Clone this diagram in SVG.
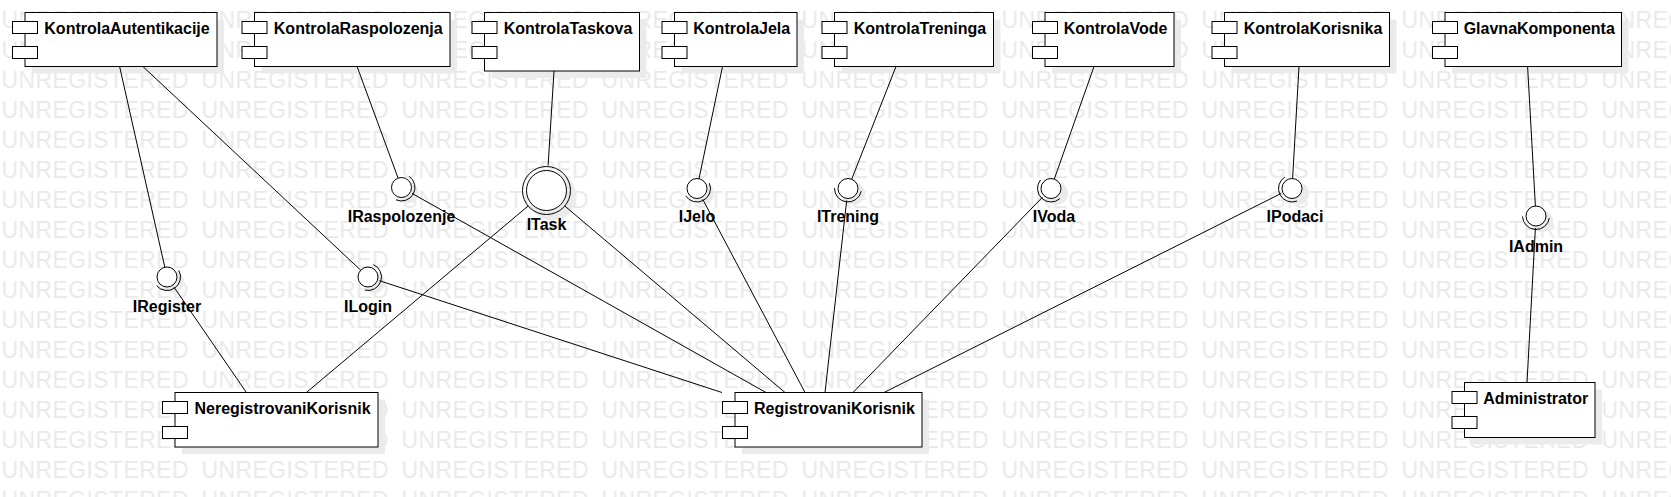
<svg xmlns="http://www.w3.org/2000/svg" width="1671" height="497" viewBox="0 0 1671 497">
<style>
.wm{font-family:"Liberation Sans",Arial,sans-serif;font-size:23px;fill:#e8e8e8;letter-spacing:0.4px}
.box{fill:#fff;stroke:#000;stroke-width:1}
.sm{fill:#fff;stroke:#000;stroke-width:1}
.sh{fill:#ebebeb}
.lbl{font-family:"Liberation Sans",Arial,sans-serif;font-size:16px;font-weight:bold;fill:#000}
.ball{fill:#fff;stroke:#000;stroke-width:1}
.arc{fill:none;stroke:#000;stroke-width:1}
.con line{stroke:#000;stroke-width:1}
</style>
<defs>
<pattern id="wmp" x="1.5" y="0" width="200" height="30" patternUnits="userSpaceOnUse">
<text class="wm" x="0" y="28">UNREGISTERED</text>
</pattern>
</defs>
<rect width="1671" height="497" fill="#fff"/>
<rect width="1671" height="497" fill="url(#wmp)"/>

<g id="KontrolaAutentikacije">
<rect class="sh" x="32" y="19.5" width="192" height="54"/>
<rect class="box" x="25" y="12.5" width="192" height="54"/>
<rect class="sm" x="12.5" y="21.5" width="25" height="12"/>
<rect class="sm" x="12.5" y="46.5" width="25" height="12"/>
<text class="lbl" x="127" y="33.5" text-anchor="middle">KontrolaAutentikacije</text>
</g>
<g id="KontrolaRaspolozenja">
<rect class="sh" x="261.5" y="19.5" width="195.5" height="54"/>
<rect class="box" x="254.5" y="12.5" width="195.5" height="54"/>
<rect class="sm" x="242" y="21.5" width="25" height="12"/>
<rect class="sm" x="242" y="46.5" width="25" height="12"/>
<text class="lbl" x="358.25" y="33.5" text-anchor="middle">KontrolaRaspolozenja</text>
</g>
<g id="KontrolaTaskova">
<rect class="sh" x="491.5" y="19.5" width="155" height="58.5"/>
<rect class="box" x="484.5" y="12.5" width="155" height="58.5"/>
<rect class="sm" x="472" y="21.5" width="25" height="12"/>
<rect class="sm" x="472" y="46.5" width="25" height="12"/>
<text class="lbl" x="568" y="33.5" text-anchor="middle">KontrolaTaskova</text>
</g>
<g id="KontrolaJela">
<rect class="sh" x="681.5" y="19.5" width="122.5" height="54"/>
<rect class="box" x="674.5" y="12.5" width="122.5" height="54"/>
<rect class="sm" x="662" y="21.5" width="25" height="12"/>
<rect class="sm" x="662" y="46.5" width="25" height="12"/>
<text class="lbl" x="741.75" y="33.5" text-anchor="middle">KontrolaJela</text>
</g>
<g id="KontrolaTreninga">
<rect class="sh" x="841.5" y="19.5" width="159" height="54"/>
<rect class="box" x="834.5" y="12.5" width="159" height="54"/>
<rect class="sm" x="822" y="21.5" width="25" height="12"/>
<rect class="sm" x="822" y="46.5" width="25" height="12"/>
<text class="lbl" x="920" y="33.5" text-anchor="middle">KontrolaTreninga</text>
</g>
<g id="KontrolaVode">
<rect class="sh" x="1052" y="19.5" width="129" height="54"/>
<rect class="box" x="1045" y="12.5" width="129" height="54"/>
<rect class="sm" x="1032.5" y="21.5" width="25" height="12"/>
<rect class="sm" x="1032.5" y="46.5" width="25" height="12"/>
<text class="lbl" x="1115.5" y="33.5" text-anchor="middle">KontrolaVode</text>
</g>
<g id="KontrolaKorisnika">
<rect class="sh" x="1231.5" y="19.5" width="165" height="54"/>
<rect class="box" x="1224.5" y="12.5" width="165" height="54"/>
<rect class="sm" x="1212" y="21.5" width="25" height="12"/>
<rect class="sm" x="1212" y="46.5" width="25" height="12"/>
<text class="lbl" x="1313" y="33.5" text-anchor="middle">KontrolaKorisnika</text>
</g>
<g id="GlavnaKomponenta">
<rect class="sh" x="1452" y="19.5" width="176.5" height="54"/>
<rect class="box" x="1445" y="12.5" width="176.5" height="54"/>
<rect class="sm" x="1432.5" y="21.5" width="25" height="12"/>
<rect class="sm" x="1432.5" y="46.5" width="25" height="12"/>
<text class="lbl" x="1539.25" y="33.5" text-anchor="middle">GlavnaKomponenta</text>
</g>
<g id="NeregistrovaniKorisnik">
<rect class="sh" x="182" y="399.5" width="203" height="54.5"/>
<rect class="box" x="175" y="392.5" width="203" height="54.5"/>
<rect class="sm" x="162.5" y="401.5" width="25" height="12"/>
<rect class="sm" x="162.5" y="426.5" width="25" height="12"/>
<text class="lbl" x="282.5" y="413.5" text-anchor="middle">NeregistrovaniKorisnik</text>
</g>
<g id="RegistrovaniKorisnik">
<rect class="sh" x="742" y="399.5" width="187" height="54.5"/>
<rect class="box" x="735" y="392.5" width="187" height="54.5"/>
<rect class="sm" x="722.5" y="401.5" width="25" height="12"/>
<rect class="sm" x="722.5" y="426.5" width="25" height="12"/>
<text class="lbl" x="834.5" y="413.5" text-anchor="middle">RegistrovaniKorisnik</text>
</g>
<g id="Administrator">
<rect class="sh" x="1471.5" y="389.5" width="130.5" height="55"/>
<rect class="box" x="1464.5" y="382.5" width="130.5" height="55"/>
<rect class="sm" x="1452" y="391.5" width="25" height="12"/>
<rect class="sm" x="1452" y="416.5" width="25" height="12"/>
<text class="lbl" x="1535.75" y="403.5" text-anchor="middle">Administrator</text>
</g>

<g id="IRegister">
<circle class="sh" cx="173" cy="282" r="11"/>
<circle class="ball" cx="167" cy="277" r="10"/>
<path class="arc" d="M178.75,270.35 A13.5,13.5 0 0 1 156.58,285.59"/>
<text class="lbl" x="167" y="312" text-anchor="middle">IRegister</text>
</g>
<g id="ILogin">
<circle class="sh" cx="374" cy="282" r="11"/>
<circle class="ball" cx="368" cy="277" r="10"/>
<path class="arc" d="M373.29,264.58 A13.5,13.5 0 0 1 364.94,290.15"/>
<text class="lbl" x="368" y="312" text-anchor="middle">ILogin</text>
</g>
<g id="IRaspolozenje">
<circle class="sh" cx="407.5" cy="192.5" r="11"/>
<circle class="ball" cx="401.5" cy="187.5" r="10"/>
<path class="arc" d="M409.12,176.36 A13.5,13.5 0 0 1 395.92,199.79"/>
<text class="lbl" x="401.5" y="222" text-anchor="middle">IRaspolozenje</text>
</g>
<g id="ITask">
<circle class="sh" cx="552.5" cy="196.5" r="24"/>
<circle class="ball" cx="546.5" cy="190.5" r="20"/>
<circle class="arc" cx="546.5" cy="190.5" r="24"/>
<text class="lbl" x="546.5" y="230" text-anchor="middle">ITask</text>
</g>
<g id="IJelo">
<circle class="sh" cx="703" cy="193.5" r="11"/>
<circle class="ball" cx="697" cy="188.5" r="10"/>
<path class="arc" d="M709.44,183.25 A13.5,13.5 0 0 1 685.67,195.83"/>
<text class="lbl" x="697" y="222" text-anchor="middle">IJelo</text>
</g>
<g id="ITrening">
<circle class="sh" cx="854" cy="193.5" r="11"/>
<circle class="ball" cx="848" cy="188.5" r="10"/>
<path class="arc" d="M861.23,191.17 A13.5,13.5 0 0 1 834.5,188.17"/>
<text class="lbl" x="848" y="222" text-anchor="middle">ITrening</text>
</g>
<g id="IVoda">
<circle class="sh" cx="1057" cy="193.5" r="11"/>
<circle class="ball" cx="1051" cy="188.5" r="10"/>
<path class="arc" d="M1059.83,198.71 A13.5,13.5 0 0 1 1040.52,179.99"/>
<text class="lbl" x="1054" y="222" text-anchor="middle">IVoda</text>
</g>
<g id="IPodaci">
<circle class="sh" cx="1298" cy="193.5" r="11"/>
<circle class="ball" cx="1292" cy="188.5" r="10"/>
<path class="arc" d="M1296.97,201.05 A13.5,13.5 0 0 1 1284.93,177.0"/>
<text class="lbl" x="1295" y="222" text-anchor="middle">IPodaci</text>
</g>
<g id="IAdmin">
<circle class="sh" cx="1542" cy="221" r="11"/>
<circle class="ball" cx="1536" cy="216" r="10"/>
<path class="arc" d="M1549.37,217.9 A13.5,13.5 0 0 1 1522.51,216.44"/>
<text class="lbl" x="1536" y="251.5" text-anchor="middle">IAdmin</text>
</g>

<g id="connectors" class="con">
<line x1="119.6" y1="66.5" x2="164.8" y2="267.2"/>
<line x1="173.8" y1="286.9" x2="246.4" y2="392.5"/>
<line x1="142.9" y1="66.5" x2="360.7" y2="270.2"/>
<line x1="379.4" y1="280.7" x2="722" y2="392.5"/>
<line x1="357.1" y1="66.5" x2="398.1" y2="178.1"/>
<line x1="412" y1="193.4" x2="766" y2="392.5"/>
<line x1="554" y1="71" x2="548.1" y2="165.5"/>
<line x1="528.1" y1="206" x2="306.4" y2="392.5"/>
<line x1="564.8" y1="206" x2="785" y2="392.5"/>
<line x1="722.5" y1="66.5" x2="699" y2="178.7"/>
<line x1="702.6" y1="199.1" x2="805" y2="392.5"/>
<line x1="896" y1="66.5" x2="851.7" y2="179.2"/>
<line x1="846.7" y1="200.4" x2="825" y2="392.5"/>
<line x1="1094" y1="66.5" x2="1054.3" y2="179.1"/>
<line x1="1042.6" y1="197.1" x2="853" y2="392.5"/>
<line x1="1299" y1="66.5" x2="1292.6" y2="178.5"/>
<line x1="1281.3" y1="193.4" x2="884" y2="392.5"/>
<line x1="1527.6" y1="66.5" x2="1535.4" y2="206"/>
<line x1="1535.4" y1="228" x2="1527" y2="382.5"/>
</g>
</svg>
